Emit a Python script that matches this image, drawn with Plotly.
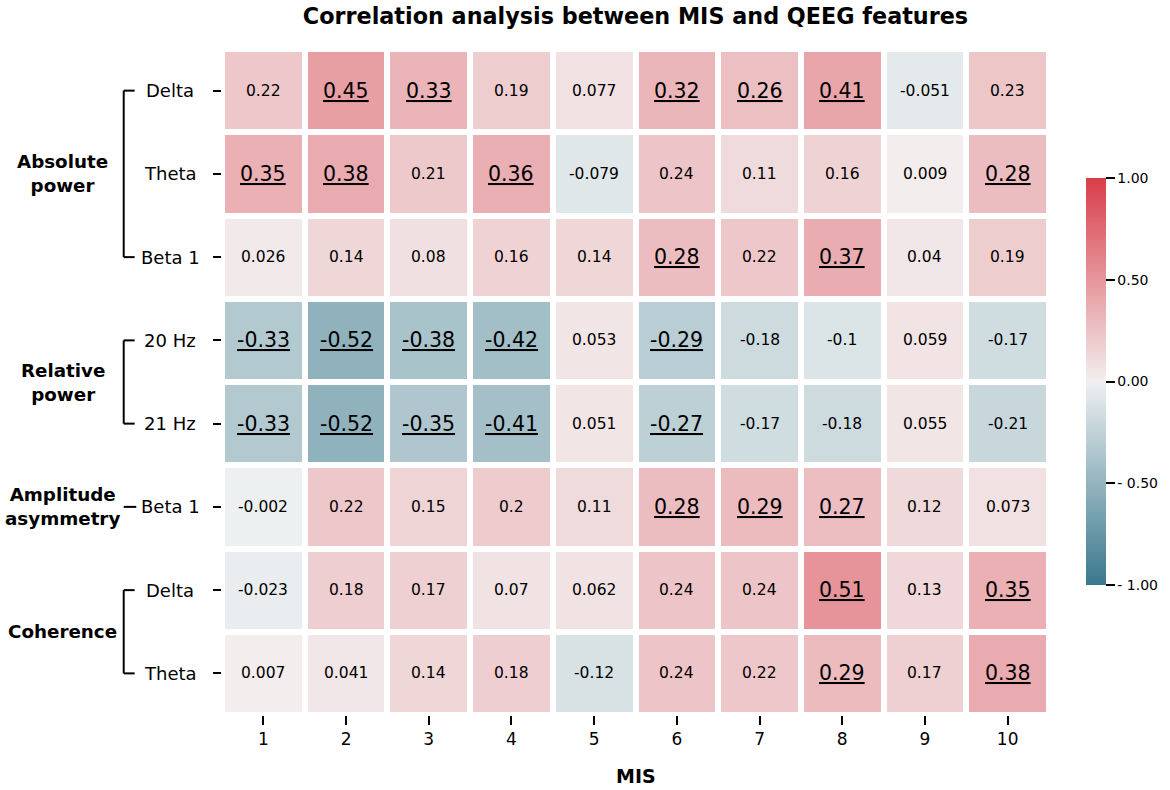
import plotly.graph_objects as go

# %% Data
mis_cols = [1, 2, 3, 4, 5, 6, 7, 8, 9, 10]
row_labels = ["Delta", "Theta", "Beta 1", "20 Hz", "21 Hz", "Beta 1", "Delta", "Theta"]

abs_delta = [0.22, 0.45, 0.33, 0.19, 0.077, 0.32, 0.26, 0.41, -0.051, 0.23]
abs_theta = [0.35, 0.38, 0.21, 0.36, -0.079, 0.24, 0.11, 0.16, 0.009, 0.28]
abs_beta1 = [0.026, 0.14, 0.08, 0.16, 0.14, 0.28, 0.22, 0.37, 0.04, 0.19]
rel_20hz = [-0.33, -0.52, -0.38, -0.42, 0.053, -0.29, -0.18, -0.1, 0.059, -0.17]
rel_21hz = [-0.33, -0.52, -0.35, -0.41, 0.051, -0.27, -0.17, -0.18, 0.055, -0.21]
asym_beta1 = [-0.002, 0.22, 0.15, 0.2, 0.11, 0.28, 0.29, 0.27, 0.12, 0.073]
coh_delta = [-0.023, 0.18, 0.17, 0.07, 0.062, 0.24, 0.24, 0.51, 0.13, 0.35]
coh_theta = [0.007, 0.041, 0.14, 0.18, -0.12, 0.24, 0.22, 0.29, 0.17, 0.38]

# groups: (label, first row, last row)
groups = [("Absolute<br>power", 0, 2), ("Relative<br>power", 3, 4),
          ("Amplitude<br>asymmetry", 5, 5), ("Coherence", 6, 7)]

cbar_vals = [-1, -0.5, 0, 0.5, 1]
cbar_text = ["- 1.00", "- 0.50", "0.00", "0.50", "1.00"]

sig_level = 0.25  # values at or above this are underlined

z = [abs_delta, abs_theta, abs_beta1, rel_20hz, rel_21hz, asym_beta1, coh_delta, coh_theta]
rows = list(range(len(row_labels)))

# %% Plot area in pixels (used to place things in paper coords)
W, H = 1170, 790
L, R, T, B = 222, 115, 49, 75
pw, ph = W - L - R, H - T - B


def px_x(px):
    return (px - L) / pw


def px_y(py):
    return (H - B - py) / ph


colors = [[0.0, "rgb(58,120,141)"], [0.499, "rgb(237,240,241)"],
          [0.501, "rgb(243,238,238)"], [1.0, "rgb(217,61,73)"]]

fig = go.Figure(go.Heatmap(
    z=z, x=mis_cols, y=rows, zmin=-1, zmax=1, colorscale=colors,
    xgap=6, ygap=6,
    colorbar=dict(x=px_x(1092), xanchor="left", xpad=0, y=px_y(381.5), yanchor="middle",
                  ypad=0, len=407 / ph, thickness=20, outlinewidth=0,
                  ticks="outside", ticklen=9, tickwidth=2, tickcolor="black",
                  tickvals=cbar_vals, ticktext=cbar_text,
                  tickfont=dict(size=14, color="black")),
    hovertemplate="MIS %{x}<br>%{z}<extra></extra>",
))

# cell values
for r, vals in zip(rows, z):
    for c, v in zip(mis_cols, vals):
        sig = abs(v) >= sig_level
        txt = f'<span style="text-decoration:underline">{v:g}</span>' if sig else f"{v:g}"
        fig.add_annotation(x=c, y=r, xref="x", yref="y", text=txt, showarrow=False,
                           font=dict(size=20.5 if sig else 15.5, color="black"))

# row labels
for r, lab in zip(rows, row_labels):
    fig.add_annotation(x=px_x(170), y=r, xref="paper", yref="y", text=lab,
                       showarrow=False, xanchor="center", font=dict(size=18, color="black"))

# group labels and brackets
bx0, bx1 = px_x(123), px_x(134)
for lab, r0, r1 in groups:
    fig.add_annotation(x=px_x(61.5), y=(r0 + r1) / 2, xref="paper", yref="y", text=lab,
                       showarrow=False, xanchor="center",
                       font=dict(size=18.3, color="black", weight="bold"))
    line = dict(color="black", width=2)
    if r0 == r1:
        fig.add_shape(type="line", xref="paper", yref="y", x0=bx0, x1=bx1 + 0.002,
                      y0=r0, y1=r0, line=line)
    else:
        fig.add_shape(type="line", xref="paper", yref="y", x0=bx0, x1=bx0,
                      y0=r0, y1=r1, line=line)
        for rr in (r0, r1):
            fig.add_shape(type="line", xref="paper", yref="y", x0=bx0, x1=bx1,
                          y0=rr, y1=rr, line=line)

# x axis title
fig.add_annotation(x=0.5, y=px_y(776), xref="paper", yref="paper", text="MIS",
                   showarrow=False, yanchor="middle",
                   font=dict(size=19, color="black", weight="bold"))

fig.update_layout(
    width=W, height=H, autosize=False,
    margin=dict(l=L, r=R, t=T, b=B),
    plot_bgcolor="white", paper_bgcolor="white",
    font=dict(family="DejaVu Sans", color="black"),
    title=dict(text="<b>Correlation analysis between MIS and QEEG features</b>",
               x=0.5, xref="paper", y=1 - 16 / H, yref="container", yanchor="middle",
               font=dict(size=22.3, color="black")),
)
fig.update_xaxes(tickvals=mis_cols, ticks="outside", ticklen=9, tickwidth=2, tickcolor="black",
                 showgrid=False, zeroline=False, showline=False,
                 tickfont=dict(size=17, color="black"))
fig.update_yaxes(tickvals=rows, autorange="reversed", showticklabels=False,
                 ticks="outside", ticklen=8, tickwidth=2, tickcolor="black",
                 showgrid=False, zeroline=False, showline=False)

# drop the page margin so the figure fills the window exactly
fig.write_html("out.html", config={"displayModeBar": False},
               post_script="document.body.style.margin='0';")
